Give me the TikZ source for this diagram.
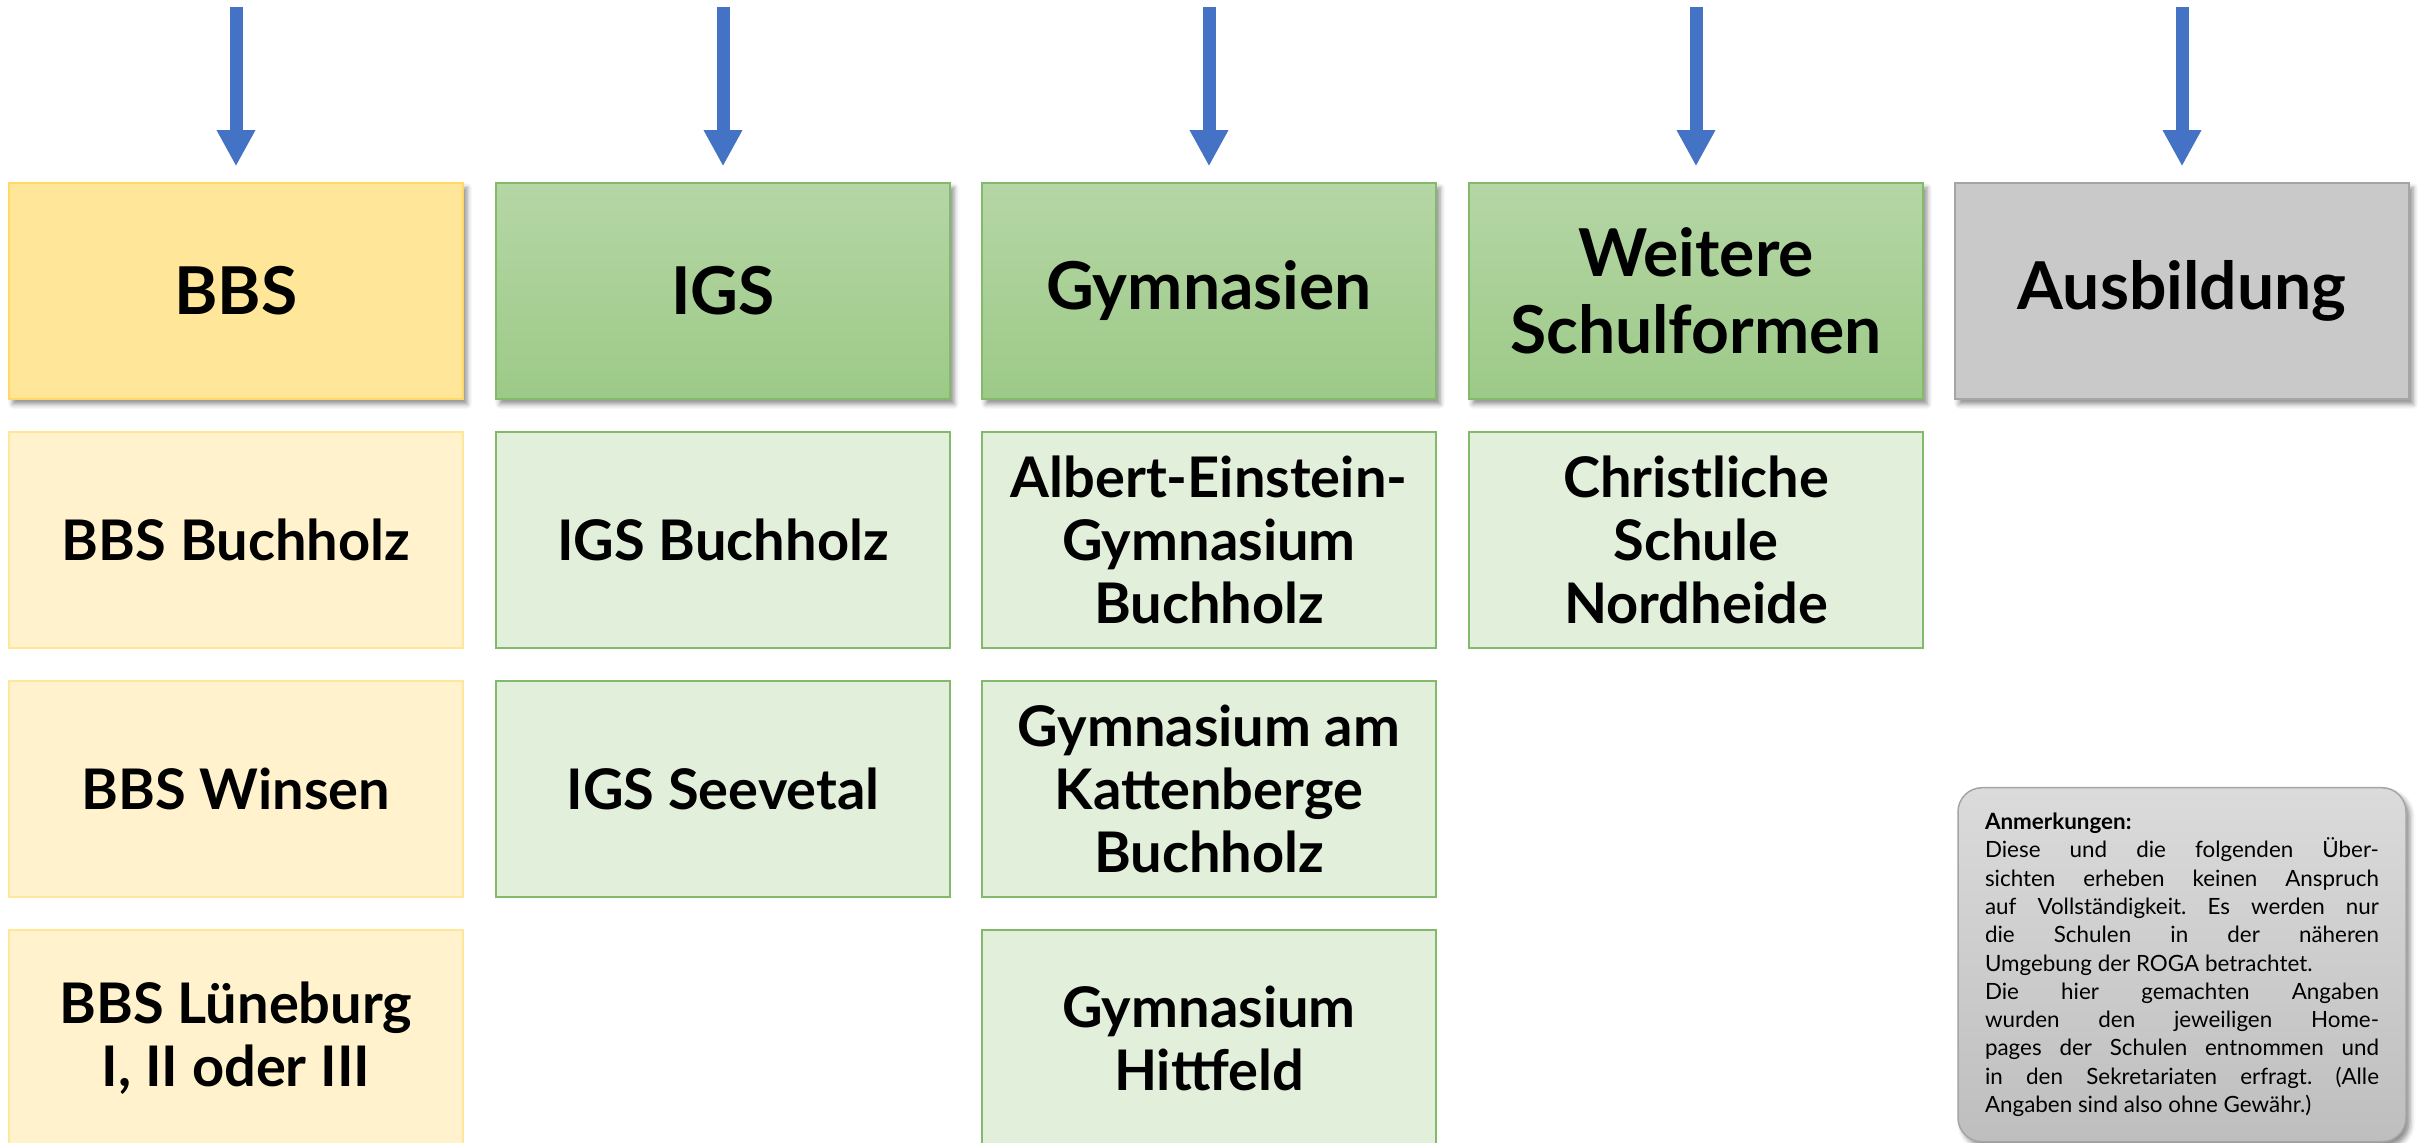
\documentclass[tikz,border=0pt]{standalone}
\usepackage{fontspec}
\setmainfont{Lato}
\usetikzlibrary{arrows.meta,shadows.blur}
\frenchspacing

\definecolor{arrblue}{HTML}{4472C4}
\definecolor{bbsgold}{HTML}{FFE699}
\definecolor{bbsline}{HTML}{FFD966}
\definecolor{bbslight}{HTML}{FFF2CC}
\definecolor{grtop}{HTML}{B5D6A5}
\definecolor{grbot}{HTML}{9DCA88}
\definecolor{grline}{HTML}{82B96B}
\definecolor{grlight}{HTML}{E2EFDA}
\definecolor{grayfill}{HTML}{C9C9C9}
\definecolor{grayline}{HTML}{A5A5A5}
\definecolor{notetop}{HTML}{DBDBDB}
\definecolor{notebot}{HTML}{BEBEBE}

\tikzset{
  head/.style={draw, line width=0.75pt, minimum width=227pt, minimum height=108pt,
    align=center, inner sep=2pt, font=\fontsize{33}{38.5}\selectfont\bfseries,
    blur shadow={shadow xshift=2pt, shadow yshift=-2.5pt, shadow blur radius=2.5pt, shadow opacity=45}},
  bbshead/.style={head, fill=bbsgold, draw=bbsline},
  grhead/.style={head, top color=grtop, bottom color=grbot, draw=grline},
  grayhead/.style={head, fill=grayfill, draw=grayline},
  entry/.style={draw, line width=0.75pt, minimum width=227pt, minimum height=108pt,
    align=center, inner sep=2pt, font=\fontsize{28}{31.5}\selectfont\bfseries},
  bbsentry/.style={entry, fill=bbslight, draw=bbsgold},
  grentry/.style={entry, fill=grlight, draw=grline},
  notebox/.style={draw=grayline, line width=0.75pt, rounded corners=12pt,
    top color=notetop, bottom color=notebot, text width=197pt, inner xsep=13.5pt,
    align=justify, minimum height=177pt, font=\fontsize{11.2}{14.15}\selectfont,
    blur shadow={shadow xshift=2pt, shadow yshift=-2.5pt, shadow blur radius=2.5pt, shadow opacity=45}},
  arr/.style={-{Triangle[length=18pt,width=18pt]}, line width=6.5pt, draw=arrblue, shorten >=8pt}
}

\begin{document}
\begin{tikzpicture}[x=0.5pt,y=-0.5pt]
  \useasboundingbox (0,0) rectangle (2422,1143);

  % headers
  \node[bbshead] at (236,291) (bbs) {BBS};
  \node[grhead] at (723,291) (igs) {IGS};
  \node[grhead] at (1209,291) (gym) {Gymnasien};
  \node[grhead] at (1696,291) (weiter) {Weitere\\Schulformen};
  \node[grayhead] at (2182,291) (ausb) {Ausbildung};

  % schools
  \node[bbsentry] at (236,540) (b1) {BBS Buchholz};
  \node[bbsentry] at (236,789) (b2) {BBS Winsen};
  \node[bbsentry] at (236,1038) (b3) {BBS Lüneburg\\I, II oder III};
  \node[grentry] at (723,540) (i1) {IGS Buchholz};
  \node[grentry] at (723,789) (i2) {IGS Seevetal};
  \node[grentry] at (1209,540) (g1) {Albert-Einstein-\\Gymnasium\\Buchholz};
  \node[grentry] at (1209,789) (g2) {Gymnasium am\\Kattenberge\\Buchholz};
  \node[grentry] at (1209,1038) (g3) {Gymnasium\\Hittfeld};
  \node[grentry] at (1696,540) (w1) {Christliche\\Schule\\Nordheide};

  % note
  \node[notebox, anchor=north] at (2182,787) (note) {\textbf{Anmerkungen:}\\
    Diese und die folgenden Über-\linebreak sichten erheben keinen Anspruch\linebreak
    auf Vollständigkeit. Es werden nur\linebreak die Schulen in der näheren\linebreak
    Umgebung der ROGA betrachtet.\\
    Die hier gemachten Angaben\linebreak wurden den jeweiligen Home-\linebreak
    pages der Schulen entnommen und\linebreak in den Sekretariaten erfragt. (Alle\linebreak
    Angaben sind also ohne Gewähr.)};

  % draw arrows
  \coordinate (t1) at (236,7);
  \coordinate (t2) at (723,7);
  \coordinate (t3) at (1209,7);
  \coordinate (t4) at (1696,7);
  \coordinate (t5) at (2182,7);
  \draw[arr] (t1) -- (bbs);
  \draw[arr] (t2) -- (igs);
  \draw[arr] (t3) -- (gym);
  \draw[arr] (t4) -- (weiter);
  \draw[arr] (t5) -- (ausb);
\end{tikzpicture}
\end{document}
